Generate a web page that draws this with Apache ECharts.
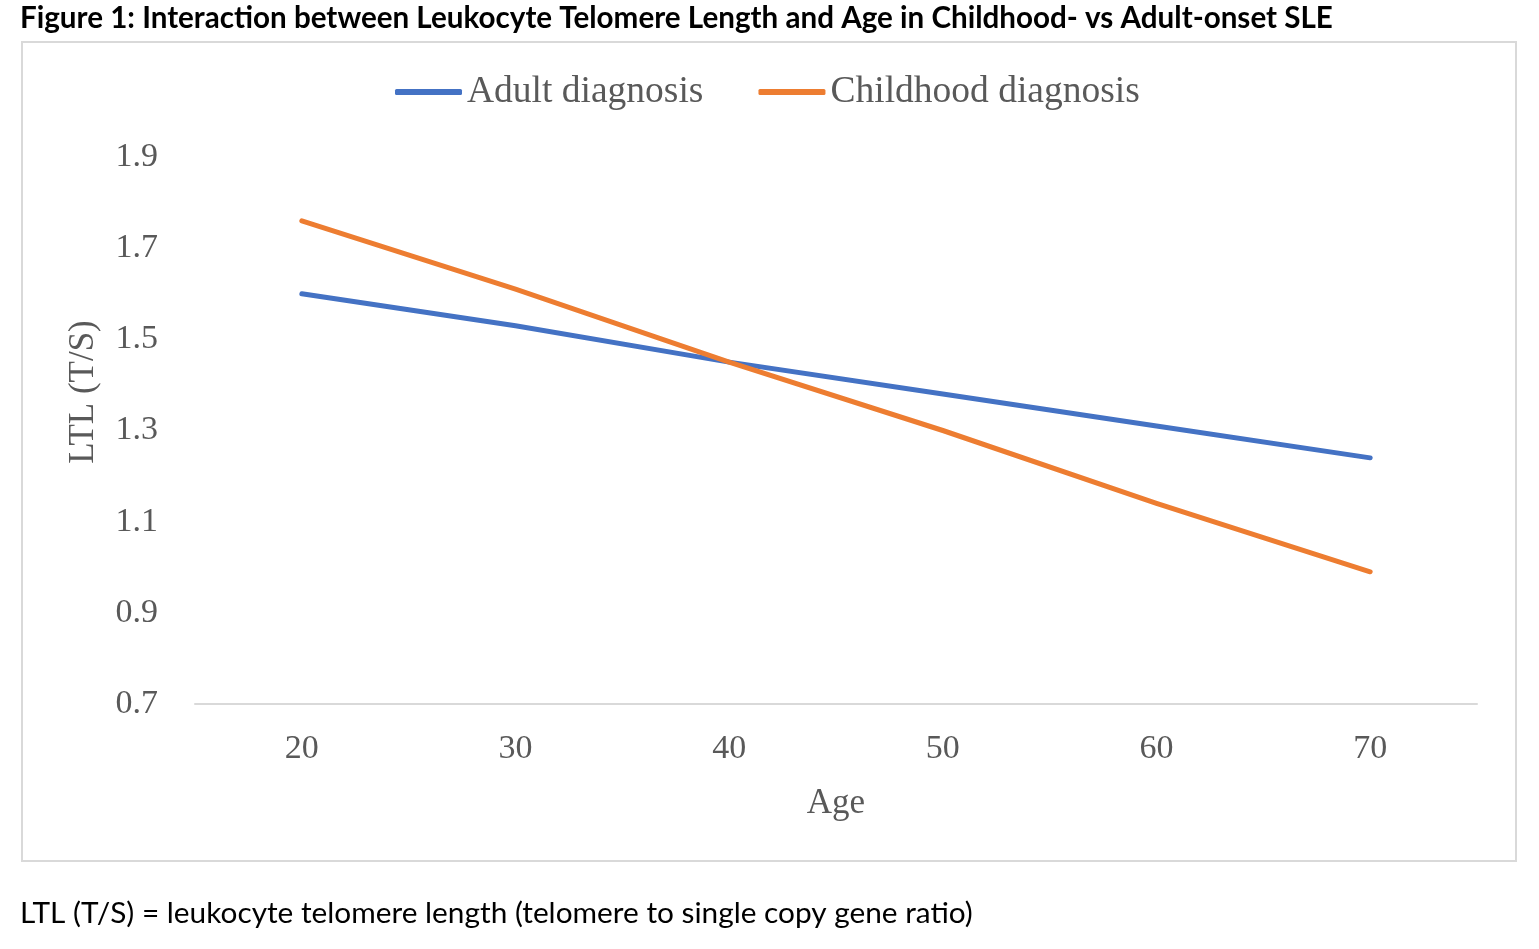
<!DOCTYPE html>
<html>
<head>
<meta charset="utf-8">
<script src="https://cdn.jsdelivr.net/npm/echarts@6/dist/echarts.min.js"></script>
<style>
html,body{margin:0;padding:0;background:#fff;}
#chart{width:1539px;height:949px;}
</style>
</head>
<body>
<div id="chart"></div>
<script>
const ages = ['20', '30', '40', '50', '60', '70'];
const adultLTL = [1.60, 1.53, 1.45, 1.38, 1.31, 1.24];
const childhoodLTL = [1.76, 1.61, 1.45, 1.30, 1.14, 0.99];
const seriesNames = ['Adult diagnosis', 'Childhood diagnosis'];
const yTicks = { min: 0.7, max: 1.9, step: 0.2 };

const serif = '"Liberation Serif", "Times New Roman", serif';
const sans = 'Lato, "Open Sans", sans-serif';
const textColor = '#595959';

const chart = echarts.init(document.getElementById('chart'), null, { renderer: 'canvas' });
chart.setOption({
  animation: false,
  backgroundColor: '#ffffff',
  graphic: [
    { type: 'rect', shape: { x: 22, y: 42, width: 1494, height: 819 },
      style: { fill: 'none', stroke: '#d9d9d9', lineWidth: 2 }, z: -1 },
    { type: 'text', left: 20, top: 3,
      style: { text: 'Figure 1: Interaction between Leukocyte Telomere Length and Age in Childhood- vs Adult-onset SLE',
               font: 'bold 29.6px ' + sans, fill: '#000' } },
    { type: 'text', left: 20, top: 898,
      style: { text: 'LTL (T/S) = leukocyte telomere length (telomere to single copy gene ratio)',
               font: '29.8px ' + sans, fill: '#000' } },
    { type: 'text', x: 84, y: 392, rotation: Math.PI / 2,
      style: { text: 'LTL (T/S)', font: '35px ' + serif, fill: textColor,
               align: 'center', verticalAlign: 'middle' } }
  ],
  legend: {
    data: seriesNames,
    left: 395, top: 73, padding: 0,
    itemWidth: 67, itemHeight: 6, itemGap: 55,
    icon: 'roundRect',
    textStyle: { fontFamily: serif, fontSize: 37.5, color: textColor }
  },
  grid: { left: 195, right: 62, top: 157, bottom: 245, containLabel: false },
  xAxis: {
    type: 'category',
    data: ages,
    boundaryGap: true,
    name: 'Age',
    nameLocation: 'middle',
    nameGap: 82,
    nameTextStyle: { fontFamily: serif, fontSize: 35, color: textColor },
    axisLine: { show: true, lineStyle: { color: '#d9d9d9', width: 2 } },
    axisTick: { show: false },
    axisLabel: { fontFamily: serif, fontSize: 34, color: textColor, margin: 28 },
    splitLine: { show: false }
  },
  yAxis: {
    type: 'value',
    min: yTicks.min, max: yTicks.max, interval: yTicks.step,
    axisLine: { show: false },
    axisTick: { show: false },
    splitLine: { show: false },
    axisLabel: { fontFamily: serif, fontSize: 34, color: textColor, margin: 37,
                 formatter: v => v.toFixed(1) }
  },
  series: [
    { name: seriesNames[0], type: 'line', data: adultLTL, showSymbol: false, symbol: 'none',
      lineStyle: { color: '#4472C4', width: 5, cap: 'round', join: 'round' },
      itemStyle: { color: '#4472C4' } },
    { name: seriesNames[1], type: 'line', data: childhoodLTL, showSymbol: false, symbol: 'none',
      lineStyle: { color: '#ED7D31', width: 5, cap: 'round', join: 'round' },
      itemStyle: { color: '#ED7D31' } }
  ]
});
</script>
</body>
</html>
